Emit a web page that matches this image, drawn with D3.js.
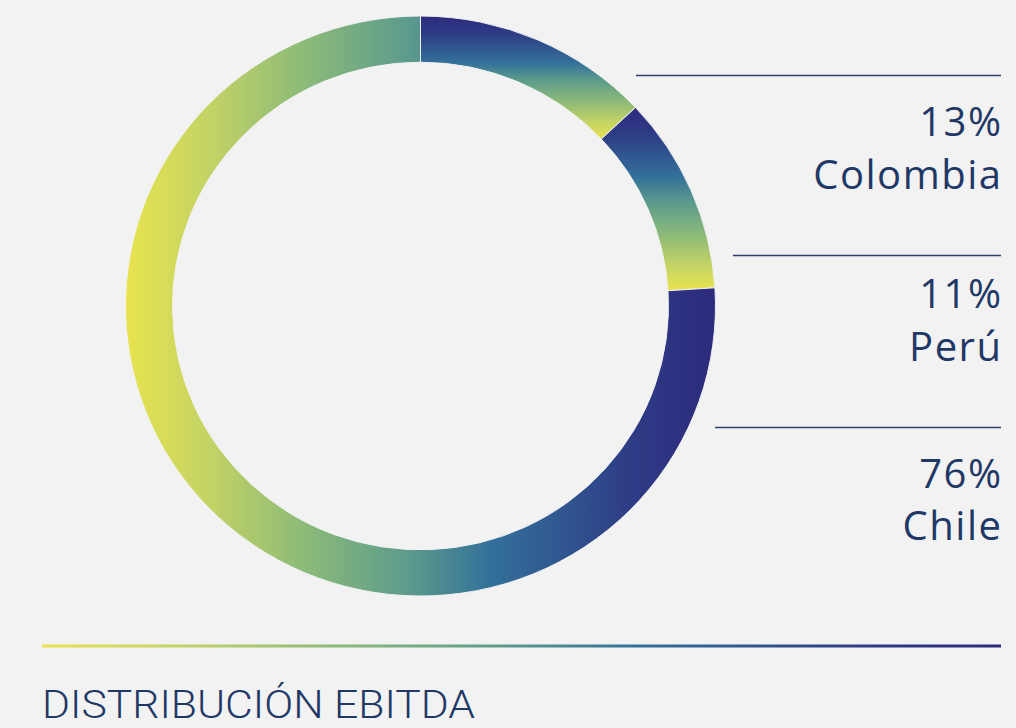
<!DOCTYPE html>
<html>
<head>
<meta charset="utf-8">
<script src="https://cdn.jsdelivr.net/npm/d3@7"></script>
<style>
  html, body { margin: 0; padding: 0; background: #f2f2f2; }
  svg { display: block; }
</style>
</head>
<body>
<div id="chart"></div>
<script>
// data
var countries = ['Colombia', 'Perú', 'Chile'];
var shares = [13, 11, 76];
var title = 'DISTRIBUCIÓN EBITDA';

// gradient stops, dark -> yellow
var rampOffsets = [0, 0.14, 0.38, 0.52, 0.7, 0.86, 1];
var rampColors = ['#2d2a7c', '#2e3b85', '#33709a', '#5c9b8c', '#8dbb78', '#c4d365', '#e8e34f'];

var width = 1016,
    height = 728,
    textColor = '#1f3866';

var svg = d3.select('#chart')
    .append('svg')
        .attr('width', width)
        .attr('height', height);

svg.append('rect')
    .attr('width', width)
    .attr('height', height)
    .attr('fill', '#f2f2f2');

var defs = svg.append('defs');

// gradient per slice: first two vertical, Chile horizontal
var gradDir = [
  {x1: 0, y1: 0, x2: 0, y2: 1},
  {x1: 0, y1: 0, x2: 0, y2: 1},
  {x1: 1, y1: 0, x2: 0, y2: 0}
];

function addGradient(id, dir) {
  var g = defs.append('linearGradient')
      .attr('id', id)
      .attr('x1', dir.x1)
      .attr('y1', dir.y1)
      .attr('x2', dir.x2)
      .attr('y2', dir.y2);
  rampOffsets.forEach(function(o, i) {
    g.append('stop')
        .attr('offset', o)
        .attr('stop-color', rampColors[i]);
  });
}

countries.forEach(function(c, i) {
  addGradient('grad' + i, gradDir[i]);
});
// bottom rule: yellow left -> navy right
addGradient('gradRule', {x1: 1, y1: 0, x2: 0, y2: 0});

// donut
var cx = 420.5,
    cy = 306,
    outerR = 295,
    innerR = 248,
    squash = 290 / 295;

var pie = d3.pie()
    .sort(null)
    .value(function(d) { return d; });

var arc = d3.arc()
    .innerRadius(innerR)
    .outerRadius(outerR);

var ring = svg.append('g')
    .attr('transform', 'translate(' + cx + ',' + cy + ') scale(1,' + squash + ')');

ring.selectAll('path')
    .data(pie(shares))
    .enter()
    .append('path')
        .attr('d', arc)
        .attr('fill', function(d, i) { return 'url(#grad' + i + ')'; })
        .attr('stroke', '#f2f2f2')
        .attr('stroke-width', 1);

// labels (letter-spacing leaves a trailing gap, so anchor a bit right)
var labelX = 1002.5;
var labels = [
  {lineX: 636, lineY: 75.5, pctY: 136, nameY: 189},
  {lineX: 733, lineY: 255.5, pctY: 308, nameY: 361},
  {lineX: 715, lineY: 427.5, pctY: 488, nameY: 540}
];

var labelGroup = svg.append('g')
    .attr('class', 'labels');

labels.forEach(function(l, i) {
  labelGroup.append('line')
      .attr('x1', l.lineX)
      .attr('x2', 1001)
      .attr('y1', l.lineY)
      .attr('y2', l.lineY)
      .attr('stroke', '#2c3e6b')
      .attr('stroke-width', 1.3);

  labelGroup.append('text')
      .attr('x', labelX)
      .attr('y', l.pctY)
      .style('text-anchor', 'end')
      .style('font-family', '"Open Sans", sans-serif')
      .style('font-size', '40px')
      .style('letter-spacing', '1.5px')
      .style('fill', textColor)
      .text(shares[i] + '%');

  labelGroup.append('text')
      .attr('x', labelX)
      .attr('y', l.nameY)
      .style('text-anchor', 'end')
      .style('font-family', '"Open Sans", sans-serif')
      .style('font-size', '40px')
      .style('letter-spacing', '1.5px')
      .style('fill', textColor)
      .text(countries[i]);
});

// bottom rule + title
svg.append('rect')
    .attr('x', 42)
    .attr('y', 644.5)
    .attr('width', 959)
    .attr('height', 3)
    .attr('fill', 'url(#gradRule)');

svg.append('text')
    .attr('x', 42)
    .attr('y', 718)
    .attr('textLength', 433)
    .attr('lengthAdjust', 'spacingAndGlyphs')
    .style('font-family', 'Roboto, sans-serif')
    .style('font-weight', 300)
    .style('font-size', '39px')
    .style('fill', textColor)
    .text(title);
</script>
</body>
</html>
